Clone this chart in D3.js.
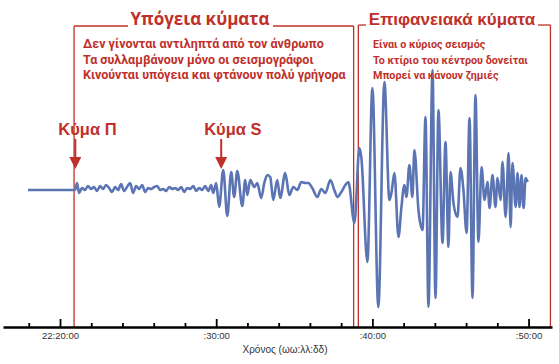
<!DOCTYPE html>
<html>
<head>
<meta charset="utf-8">
<script src="https://cdn.jsdelivr.net/npm/d3@7"></script>
<style>
  html, body { margin: 0; padding: 0; background: #fff; }
  svg { display: block; }
  .tick text { font-family: "Liberation Sans", Arial, sans-serif; }
</style>
</head>
<body>
<svg id="chart" width="559" height="364"></svg>
<script>
// seconds after 22:20:00
const seconds = [
  -2.05, 0.90,
  0.96, 1.09, 1.22, 1.41, 1.60, 1.79, 1.99, 2.18, 2.37, 2.56, 2.76, 2.95, 3.14, 3.33, 3.53, 3.72,
  3.91, 4.10, 4.29, 4.49, 4.68, 4.87, 5.06, 5.26, 5.45, 5.64, 5.83, 6.03, 6.22, 6.41, 6.60, 6.79,
  6.99, 7.18, 7.37, 7.56, 7.76, 7.95, 8.14, 8.33, 8.53, 8.72, 8.91, 9.10, 9.29, 9.49, 9.68,
  9.81, 10.00, 10.19, 10.45, 10.71, 10.96, 11.15, 11.35, 11.67, 11.86, 11.99, 12.18, 12.44, 12.63,
  12.88, 13.08, 13.27, 13.46, 13.65, 13.91, 14.10, 14.42, 14.68, 14.94, 15.19, 15.45, 15.71, 15.90,
  16.15, 16.47, 16.73, 16.99, 17.31, 17.56, 17.76, 18.01, 18.27, 18.46,
  18.85, 19.17, 19.29, 19.68, 20.00, 20.38, 20.77, 21.09, 21.22, 21.41, 21.67, 21.86, 22.05, 22.18,
  22.37, 22.56, 22.69, 22.95, 23.21, 23.40, 23.59, 23.85, 24.04, 24.23, 24.49, 24.68, 24.87, 25.00,
  25.19, 25.45, 25.64, 25.83, 26.03, 26.22, 26.41, 26.60, 26.79, 26.99, 27.18, 27.37, 27.50, 27.69,
  27.88, 28.01, 28.21, 28.33, 28.53, 28.72, 28.85, 28.97, 29.17, 29.29, 29.42, 29.55, 29.68, 29.81, 29.94
];

const amplitude = [
  0, 0,
  0, 0.7, -0.3, 0.2, 0, 0.4, 0.1, 0.3, -0.1, 0.4, 0.1, 0.5, 0.2, -0.2, 0.3, 0,
  0.6, -0.1, 0.3, 0.7, -0.3, 0.4, 0.1, 0.5, -0.2, 0.2, 0.1, 0.3, 0.4, 0, 0.1, -0.1,
  0.3, 0.1, 0.2, 0, 0.3, -0.2, 0.2, 0.1, 0.4, -0.1, 0.2, 0, 0.4, -0.1, 0.5,
  -0.3, 0.7, -1.7, 2.0, -2.6, 1.8, -0.7, 1.9, -1.6, 1.0, -0.5, 1.0, 0.3, 0.7,
  -0.8, 0.7, 1.5, 1.3, -1.0, 1.0, -0.8, 1.7, -0.5, 0.3, 0, 0.8, 0.7, 0.7,
  0.2, -0.7, 0.1, -0.3, 1.0, 0, -0.7, -0.2, 0.5, 0.8,
  -3.3, 4.2, 3.3, -7.2, 10.2, -11.7, 10.8, -1.0, -0.3, 1.7, -4.7, -1.7, 0.5, -0.7,
  2.5, -0.7, 4.0, -2.0, -4.0, 7.3, -11.7, 12.0, -10.8, 8.0, -5.3, 4.8, -5.7, 1.8,
  -1.3, -2.7, 2.2, 0, -4.3, 7.2, -10.8, 9.5, -5.2, 2.3, -1.0, 0.8, -1.8, 1.5,
  -1.7, 1.2, -1.0, 2.8, -2.7, 3.7, -3.7, 2.7, -1.7, 1.7, -1.7, 1.5, -1.8, 1.2, 0.8
];

const majorTicks = [0, 10, 20, 30];
const majorLabels = ["22:20:00", ":30:00", ":40:00", ":50:00"];
const minorTicks = d3.range(-2, 32, 2);

const leftTitle = "Υπόγεια κύματα";
const leftLines = [
  "Δεν γίνονται αντιληπτά από τον άνθρωπο",
  "Τα συλλαμβάνουν μόνο οι σεισμογράφοι",
  "Κινούνται υπόγεια και φτάνουν πολύ γρήγορα"
];
const rightTitle = "Επιφανειακά κύματα";
const rightLines = [
  "Είναι ο κύριος σεισμός",
  "Το κτίριο του κέντρου δονείται",
  "Μπορεί να κάνουν ζημιές"
];
const arrivals = [
  { label: "Κύμα Π", t: 0.98 },
  { label: "Κύμα S", t: 10.32 }
];
// box edges in seconds
const leftBox = [0.9, 18.8];
const rightBox = [19.1, 31.4];

const red = "#c0302a";
const blue = "#5b74b4";

const svg = d3.select("#chart");
const axisY = 327;

const x = d3.scaleLinear().domain([-3.65, 31.5]).range([3, 552]);
const y = d3.scaleLinear().domain([-12, 12]).range([310, 70]);

const data = seconds.map((s, i) => ({ s, a: amplitude[i] }));

// red boxes
const drawBox = (edges, top, gapFrom, gapTo) => {
  const x0 = x(edges[0]), x1 = x(edges[1]);
  const g = svg.append("g").attr("stroke", red).attr("stroke-width", 1.3).attr("fill", "none");
  g.append("line").attr("x1", x0).attr("x2", x0).attr("y1", top).attr("y2", axisY);
  g.append("line").attr("x1", x1).attr("x2", x1).attr("y1", top).attr("y2", axisY);
  g.append("line").attr("x1", x0).attr("x2", gapFrom).attr("y1", top).attr("y2", top);
  g.append("line").attr("x1", gapTo).attr("x2", x1).attr("y1", top).attr("y2", top);
};
drawBox(leftBox, 26, 128, 273);
drawBox(rightBox, 25, 366, 538);

// waveform
const line = d3.line()
  .x(d => x(d.s))
  .y(d => y(d.a))
  .curve(d3.curveMonotoneX);

svg.append("path")
  .datum(data)
  .attr("fill", "none")
  .attr("stroke", blue)
  .attr("stroke-width", 2.6)
  .attr("stroke-linejoin", "round")
  .attr("d", line);

// titles
svg.append("text")
  .attr("x", 200).attr("y", 25)
  .attr("text-anchor", "middle")
  .attr("fill", red)
  .style("font-family", "'Open Sans', sans-serif")
  .style("font-weight", "bold")
  .style("font-size", "17px")
  .text(leftTitle);

svg.append("text")
  .attr("x", 452).attr("y", 25)
  .attr("text-anchor", "middle")
  .attr("fill", red)
  .style("font-family", "'Liberation Sans', Arial, sans-serif")
  .style("font-weight", "bold")
  .style("font-size", "17px")
  .text(rightTitle);

// text block sized so its longest line fits the width seen in the reference
const textBlock = (lines, x0, maxWidth) => {
  const texts = svg.append("g").selectAll("text")
    .data(lines)
    .join("text")
    .attr("x", x0)
    .attr("y", (d, i) => 48 + i * 15.5)
    .attr("fill", red)
    .style("font-family", "Roboto, 'Open Sans', sans-serif")
    .style("font-weight", "bold")
    .style("font-size", "12px")
    .text(d => d);
  const widest = d3.max(texts.nodes(), n => n.getComputedTextLength());
  texts.style("font-size", `${Math.min(13, 12 * maxWidth / widest)}px`);
};
textBlock(leftLines, 83, 263);
textBlock(rightLines, 373, 155);

// arrival arrows
arrivals.forEach(a => {
  const ax = x(a.t);
  svg.append("text")
    .attr("x", ax - 17).attr("y", 135)
    .attr("fill", red)
    .style("font-family", "'Liberation Sans', Arial, sans-serif")
    .style("font-weight", "bold")
    .style("font-size", "16.5px")
    .text(a.label);
  svg.append("line")
    .attr("x1", ax).attr("x2", ax)
    .attr("y1", 139).attr("y2", 158)
    .attr("stroke", red).attr("stroke-width", 2);
  svg.append("path")
    .attr("d", `M${ax - 6},157 L${ax + 6},157 L${ax},169 Z`)
    .attr("fill", red);
});

// axis
const minorAxis = d3.axisBottom(x)
  .tickValues(minorTicks.filter(t => t % 10 !== 0))
  .tickSize(-4)
  .tickSizeOuter(0)
  .tickFormat("");

const majorAxis = d3.axisBottom(x)
  .tickValues(majorTicks)
  .tickSize(-8)
  .tickSizeOuter(0)
  .tickPadding(5)
  .tickFormat((d, i) => majorLabels[i]);

const gMinor = svg.append("g").attr("transform", `translate(0,${axisY})`).call(minorAxis);
gMinor.select(".domain").attr("stroke", "#000").attr("stroke-width", 2.6);
gMinor.selectAll(".tick line").attr("stroke", "#000").attr("stroke-width", 1.8);

const gMajor = svg.append("g").attr("transform", `translate(0,${axisY})`).call(majorAxis);
gMajor.select(".domain").remove();
gMajor.selectAll(".tick line").attr("stroke", "#000").attr("stroke-width", 1.8);
gMajor.selectAll(".tick text")
  .attr("fill", "#333")
  .style("font-size", "9.5px");

svg.append("text")
  .attr("x", 285).attr("y", 353)
  .attr("text-anchor", "middle")
  .attr("fill", "#333")
  .style("font-family", "'Liberation Sans', Arial, sans-serif")
  .style("font-size", "10px")
  .text("Χρόνος (ωω:λλ:δδ)");
</script>
</body>
</html>
